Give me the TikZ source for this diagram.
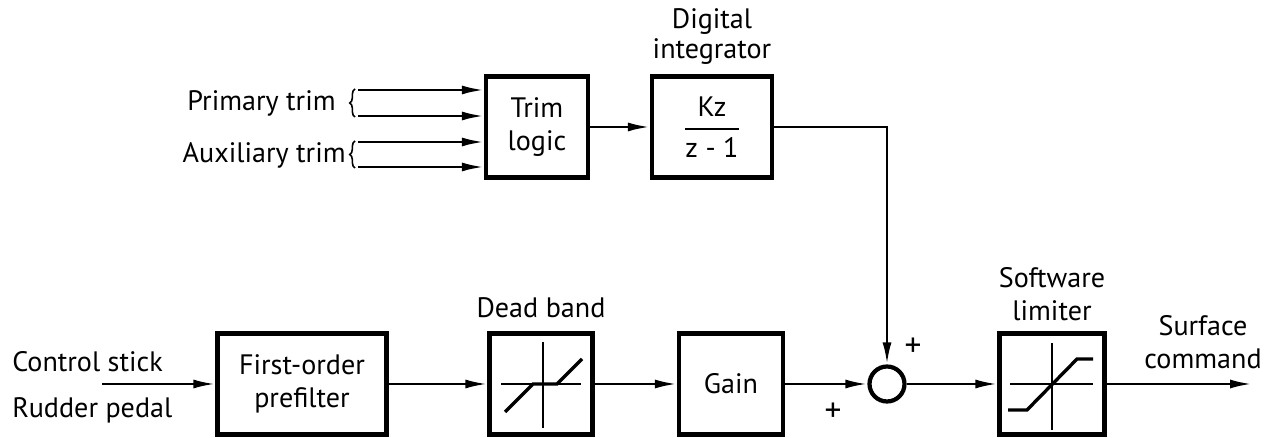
\documentclass[tikz,border=0pt]{standalone}
\usepackage{fontspec}
\setmainfont{PT Sans}
\usepackage{tikz}
\usetikzlibrary{arrows.meta,positioning,calc,decorations.pathreplacing}

\begin{document}
\begin{tikzpicture}[x=0.02cm,y=-0.02cm,font=\fontsize{16}{19}\selectfont,
  blk/.style={draw,line width=2.4pt,minimum height=2.02cm,align=center,inner sep=0pt},
  lbl/.style={align=center,inner sep=0pt},
  sig/.style={line width=1.5pt,-{Latex[length=4.4mm,width=1.8mm]}},
  axis/.style={line width=0.7pt},
  curve/.style={line width=1.9pt}]
\useasboundingbox (0,0) rectangle (1275,438);

% top row
\node[blk,minimum width=2.04cm] (trim) at (537,127) {Trim\\logic};
\node[blk,minimum width=2.4cm] (integ) at (712,127)
  {$\displaystyle{\hbox{Kz}\above1.2pt\hbox{z - 1}}$};
\node[lbl,above=0.2cm of integ] (integlbl) {Digital\\[-2pt]integrator};

% trim inputs
\coordinate (p1) at (358,90);
\coordinate (p2) at (358,116);
\coordinate (a1) at (358,142);
\coordinate (a2) at (358,167);
\foreach \c in {p1,p2,a1,a2}
  \draw[sig] (\c) -- (\c -| trim.west);
\draw[line width=0.9pt,decorate,decoration={brace,amplitude=3pt}] (355,117) -- (355,89);
\draw[line width=0.9pt,decorate,decoration={brace,amplitude=3pt}] (355,168) -- (355,141);
\node[lbl,anchor=east] (prim) at (336,103) {Primary trim};
\node[lbl,anchor=east] (aux) at (346,155) {Auxiliary trim};

% bottom row
\node[blk,minimum width=3.38cm] (pre) at (302,384) {First-order\\prefilter};
\node[blk,minimum width=2.06cm] (dead) at (541,384) {};
\node[lbl,above=0.26cm of dead] (deadlbl) {Dead band};
\node[blk,minimum width=2.08cm] (gain) at (731,384) {Gain};
\node[draw,circle,line width=2.4pt,minimum size=0.7cm,inner sep=0pt] (sum) at (887,384) {};
\node[blk,minimum width=2.1cm] (lim) at (1052,384) {};
\node[lbl,above=0.2cm of lim] (limlbl) {Software\\limiter};

\node[lbl,anchor=west] (stick) at (12,362) {Control stick};
\node[lbl,anchor=west] (pedal) at (12,410) {Rudder pedal};
\node[lbl] (surf) at (1203,342) {Surface\\command};
\node[font=\fontsize{19}{19}\selectfont] (plusa) at (833,412) {+};
\node[font=\fontsize{19}{19}\selectfont] (plusb) at (913,347) {+};

\coordinate (in) at (102,384);
\coordinate (out) at (1252,384);

% connectors
\draw[sig] (trim) -- (integ);
\draw[sig] (integ.east) -| (sum.north);
\draw[sig] (in) -- (pre);
\draw[sig] (pre) -- (dead);
\draw[sig] (dead) -- (gain);
\draw[sig] (gain) -- (sum);
\draw[sig] (sum) -- (lim);
\draw[sig] (lim) -- (out);

% dead band curve
\begin{scope}[shift={(dead.center)}]
  \draw[axis] (-40,0) -- (40,0);
  \draw[axis] (2,-42) -- (2,44);
  \draw[curve] (-36,28) -- (-8,0) -- (16,0) -- (41,-25);
\end{scope}

% limiter curve
\begin{scope}[shift={(lim.center)}]
  \draw[axis] (-42,0) -- (41,0);
  \draw[axis] (0,-41) -- (0,46);
  \draw[curve] (-44,26) -- (-25,26) -- (25,-25) -- (41,-25);
\end{scope}
\end{tikzpicture}
\end{document}
